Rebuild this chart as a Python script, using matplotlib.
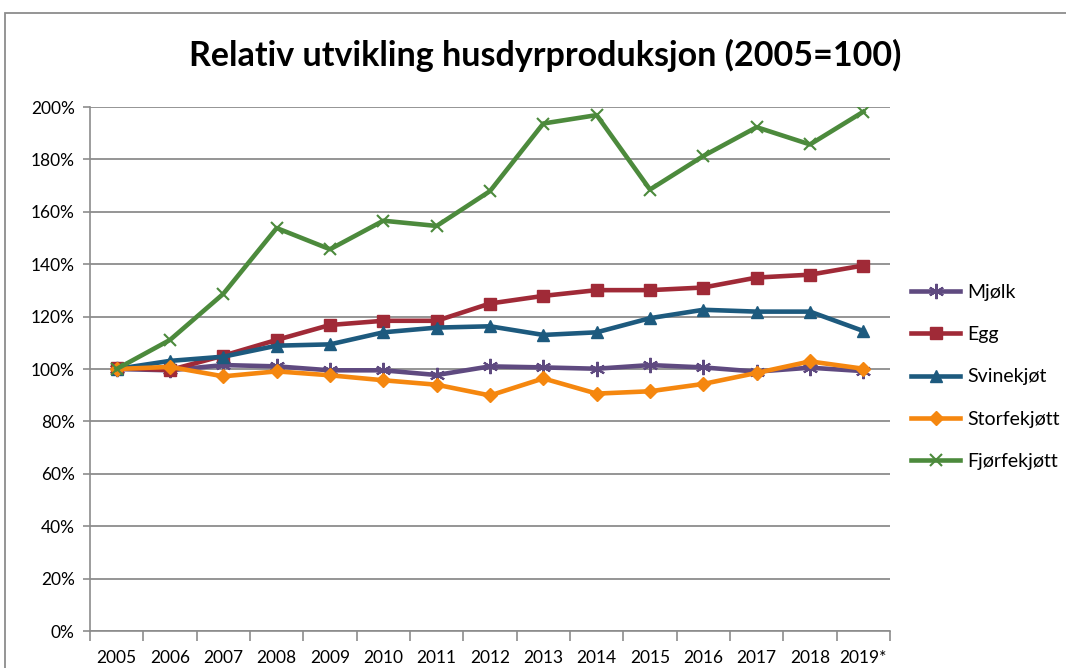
import numpy as np
import matplotlib.pyplot as plt
from matplotlib.patches import Rectangle
from matplotlib.ticker import FuncFormatter, FixedLocator

years = ["2005", "2006", "2007", "2008", "2009", "2010", "2011", "2012",
         "2013", "2014", "2015", "2016", "2017", "2018", "2019*"]

mjolk = [100, 99.5, 101.5, 101, 99.5, 99.5, 97.7, 101, 100.6, 100.1, 101.5, 100.6, 99, 100.5, 99.2]
egg = [100.5, 99.6, 105.1, 111.1, 116.8, 118.4, 118.4, 125, 127.9, 130.1, 130.1, 131.1, 134.9, 136, 139.5]
svin = [100, 103.1, 104.7, 108.9, 109.4, 114, 115.8, 116.3, 113, 114, 119.4, 122.6, 121.9, 121.9, 114.5]
storfe = [100, 100.8, 97.2, 99.1, 97.6, 95.7, 94, 89.9, 96.4, 90.6, 91.5, 94.3, 98.5, 102.9, 100.1]
fjorfe = [100, 111.1, 128.7, 153.8, 145.7, 156.6, 154.6, 167.9, 193.7, 196.9, 168.5, 181.3, 192.3, 185.7, 198.2]

series = [
    ("Mjølk", mjolk, "#5F4A80", (6, 2, 0), 11),
    ("Egg", egg, "#A02A37", "s", 8),
    ("Svinekjøt", svin, "#1D5A7E", "^", 8),
    ("Storfekjøtt", storfe, "#F5870F", "D", 7),
    ("Fjørfekjøtt", fjorfe, "#4C8A3C", "x", 9),
]

plt.rcParams['font.family'] = ['Lato', 'DejaVu Sans']

fig = plt.figure(figsize=(10.66, 6.68), dpi=100)
ax = fig.add_axes([90 / 1066, 1 - 631 / 668, 800 / 1066, 524 / 668])

x = np.arange(len(years))
for name, vals, col, mk, ms in series:
    ax.plot(x, vals, color=col, lw=3.3, marker=mk, markersize=ms,
            markeredgewidth=1.5 if mk in ("x", (6, 2, 0)) else 1,
            markeredgecolor=col, markerfacecolor=col, label=name)

ax.set_xlim(-0.5, len(years) - 0.5)
ax.set_ylim(0, 200)
ax.set_yticks(np.arange(0, 201, 20))
ax.yaxis.set_major_formatter(FuncFormatter(lambda v, p: f"{int(v)}%"))
ax.grid(axis='y', color='#8c8c8c', lw=1.3)
ax.set_axisbelow(True)

ax.set_xticks(x)
ax.set_xticklabels(years)
ax.xaxis.set_minor_locator(FixedLocator(np.arange(-0.5, len(years), 1)))
ax.tick_params(axis='x', which='major', length=0, pad=14, labelsize=12.5)
ax.tick_params(axis='x', which='minor', length=7, color='#8c8c8c', width=1.2)
ax.tick_params(axis='y', length=5, color='#8c8c8c', width=1.2, labelsize=12.5, pad=6)

for s in ['top', 'right']:
    ax.spines[s].set_visible(False)
for s in ['left', 'bottom']:
    ax.spines[s].set_color('#8c8c8c')
    ax.spines[s].set_linewidth(1.2)

fig.text(545 / 1066, 1 - 55 / 668, "Relativ utvikling husdyrproduksjon (2005=100)",
         ha='center', va='center', fontsize=24.5, fontweight='bold')

leg = ax.legend(loc='center left', bbox_to_anchor=(1.005, 0.485), frameon=False,
                fontsize=14, handlelength=2.5, handletextpad=0.35, labelspacing=1.3)

fig.patches.append(Rectangle((5 / 1066, -0.1), 1.2, 1.1 - 13 / 668, transform=fig.transFigure,
                             fill=False, edgecolor='#8c8c8c', lw=1.3))

fig.savefig("out.png", dpi=100)
